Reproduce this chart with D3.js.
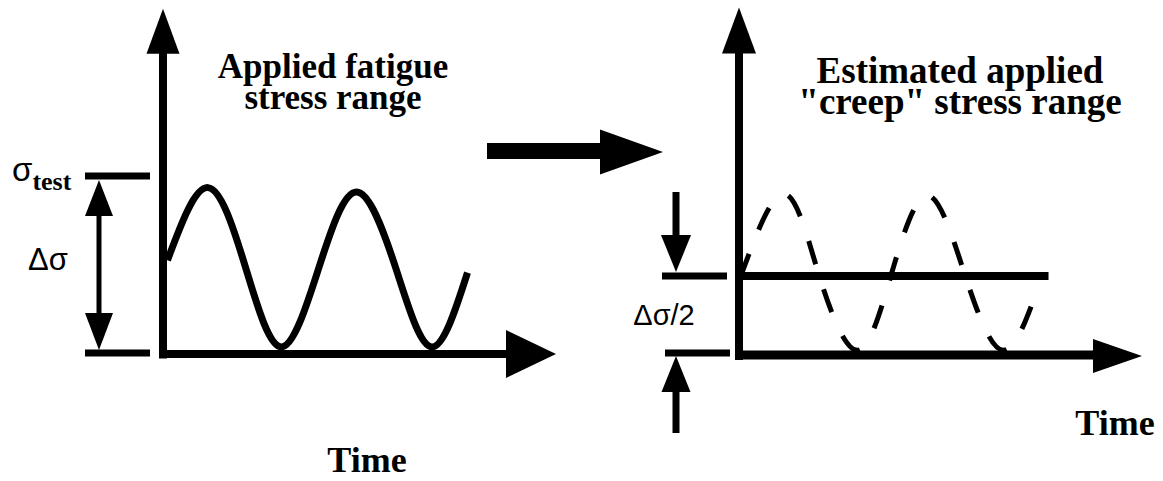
<!DOCTYPE html>
<html>
<head>
<meta charset="utf-8">
<script src="https://cdn.jsdelivr.net/npm/d3@7"></script>
<style>
  body { margin: 0; background: #fff; }
  svg { display: block; }
</style>
</head>
<body>
<svg id="chart" width="1163" height="481"></svg>
<script>
// Applied fatigue cycle: time in cycles, stress as a fraction of sigma_test
const fatigueTime   = [0.03, 0.30, 0.55, 0.79, 1.04, 1.29, 1.55, 1.79, 2.03];
const fatigueStress = [0.53, 0.94, 0.49, 0.04, 0.49, 0.915, 0.49, 0.04, 0.46];

// The same cycle, redrawn dashed under the estimated creep stress
const creepTime   = [0.02, 0.31, 0.55, 0.81, 1.04, 1.29, 1.55, 1.81, 2.06];
const creepStress = [0.52, 1.02, 0.50, 0.03, 0.50, 1.01, 0.50, 0.03, 0.46];

// Estimated constant "creep" stress = half the range
const creepLevelTime   = [0, 2.12];
const creepLevelStress = [0.5, 0.5];

const leftTitle  = ["Applied fatigue", "stress range"];
const rightTitle = ["Estimated applied", "\"creep\" stress range"];
const timeLabel  = "Time";
const rangeLabel = "\u0394\u03c3";
const halfRangeLabel = "\u0394\u03c3/2";

const svg = d3.select("#chart");
const ink = "#000";
const serif = "'Liberation Serif', 'Times New Roman', serif";
const sans  = "'Liberation Sans', Arial, sans-serif";

// ---- scales --------------------------------------------------------------
const xL = d3.scaleLinear().domain([0, 2.6]).range([163, 553]);
const yL = d3.scaleLinear().domain([0, 1]).range([354, 177]);
const xR = d3.scaleLinear().domain([0, 2.75]).range([739, 1140.5]);
const yR = d3.scaleLinear().domain([0, 1]).range([355, 197]);

// ---- helpers -------------------------------------------------------------
// filled triangular arrow head; (tx,ty) is the tip, (dx,dy) the unit direction
function head(g, tx, ty, dx, dy, len, half) {
  const bx = tx - dx * len, by = ty - dy * len;
  const px = -dy, py = dx;
  g.append("path")
    .attr("d", `M${tx},${ty}L${bx + px * half},${by + py * half}L${bx - px * half},${by - py * half}Z`)
    .attr("fill", ink);
}
function bar(g, x1, y1, x2, y2, w) {
  g.append("line")
    .attr("x1", x1).attr("y1", y1).attr("x2", x2).attr("y2", y2)
    .attr("stroke", ink).attr("stroke-width", w);
}
// two-line bold title in one text element
function title(g, lines, x, y, size, lead) {
  const t = g.append("text")
    .attr("text-anchor", "middle")
    .attr("font-family", serif).attr("font-weight", "bold")
    .attr("font-size", size).attr("fill", ink);
  lines.forEach((s, i) => t.append("tspan")
    .attr("x", x).attr("y", y + i * lead).text(s));
}

const line = (xs, ys) => d3.line()
  .x(i => xs(i[0])).y(i => ys(i[1]))
  .curve(d3.curveNatural);

// ---- left panel: applied fatigue ----------------------------------------
const L = svg.append("g");
const yTopL = 1.95;                       // stress value at the axis tip
bar(L, xL(0), yL(0) + 4.5, xL(0), yL(yTopL) + 40, 8);
head(L, xL(0), yL(yTopL), 0, -1, 45, 16.5);
bar(L, xL(0) - 4, yL(0), xL(2.6) - 45, yL(0), 8);
head(L, xL(2.6) + 3, yL(0), 1, 0, 50, 24);

// fatigue wave
L.append("path")
  .datum(d3.zip(fatigueTime, fatigueStress))
  .attr("d", line(xL, yL))
  .attr("fill", "none").attr("stroke", ink).attr("stroke-width", 7);

// range markers
const rx = 99;
bar(L, 85, yL(1) - 1, 150, yL(1) - 1, 7);
bar(L, 85, yL(0) - 1, 150, yL(0) - 1, 7);
bar(L, rx, yL(1) + 30, rx, yL(0) - 30, 5);
head(L, rx, yL(1) + 3, 0, -1, 36, 14);
head(L, rx, yL(0) - 4, 0, 1, 37, 14);

const sig = L.append("text")
  .attr("x", 12).attr("y", 181)
  .attr("font-family", sans).attr("font-size", 33).attr("fill", ink);
sig.append("tspan").text("\u03c3");
sig.append("tspan").attr("font-family", serif).attr("font-weight", "bold")
  .attr("font-size", 26).attr("dy", 9).text("test");

L.append("text").attr("x", 48).attr("y", 270).attr("text-anchor", "middle")
  .attr("font-family", sans).attr("font-size", 31).attr("fill", ink).text(rangeLabel);

title(L, leftTitle, 333, 78, 35, 31);

L.append("text").attr("x", 367).attr("y", 472).attr("text-anchor", "middle")
  .attr("font-family", serif).attr("font-weight", "bold").attr("font-size", 36)
  .attr("fill", ink).text(timeLabel);

// ---- transition arrow ----------------------------------------------------
const M = svg.append("g");
bar(M, 487, 151, 602, 151, 16);
head(M, 663, 152, 1, 0, 63, 22.5);

// ---- right panel: estimated creep stress --------------------------------
const R = svg.append("g");
const yTopR = 2.2;
bar(R, xR(0), yR(0) + 5, xR(0), yR(yTopR) + 40, 8);
head(R, xR(0), yR(yTopR), 0, -1, 46, 17);
bar(R, xR(0) - 4, yR(0), xR(2.75) - 45, yR(0), 9);
head(R, xR(2.75) + 1.5, yR(0) + 1, 1, 0, 49, 17);

// original cycle, dashed: seven dash periods per cycle, gaps over the crests
const wave = R.append("path")
  .datum(d3.zip(creepTime, creepStress))
  .attr("d", line(xR, yR))
  .attr("fill", "none").attr("stroke", ink).attr("stroke-width", 5);
{
  const node = wave.node(), total = node.getTotalLength();
  const crests = [];
  let best = null;
  const splitX = xR(0.8);
  let b1 = { y: Infinity }, b2 = { y: Infinity };
  for (let s = 0; s <= total; s += 0.5) {
    const p = node.getPointAtLength(s);
    if (p.x < splitX) { if (p.y < b1.y) b1 = { y: p.y, s }; }
    else if (p.x < xR(1.8)) { if (p.y < b2.y) b2 = { y: p.y, s }; }
  }
  const P = (b2.s - b1.s) / 7;
  const dash = 0.48 * P, gap = P - dash;
  let off = (dash + gap / 2 - b1.s) % P;
  if (off < 0) off += P;
  wave.attr("stroke-dasharray", `${dash} ${gap}`).attr("stroke-dashoffset", -off);
}

// constant creep stress
R.append("path")
  .datum(d3.zip(creepLevelTime, creepLevelStress))
  .attr("d", d3.line().x(d => xR(d[0])).y(d => yR(d[1])))
  .attr("stroke", ink).attr("stroke-width", 8);

// half-range markers
const hx = 676;
bar(R, 662, yR(0.5), 727, yR(0.5), 7);
bar(R, 665, yR(0) - 2, 730, yR(0) - 2, 7);
bar(R, hx, 192, hx, yR(0.5) - 38, 7);
head(R, hx, yR(0.5) - 4, 0, 1, 37, 15);
bar(R, hx, yR(0) + 35, hx, 433, 7);
head(R, hx, yR(0) + 1, 0, -1, 36, 14.5);

R.append("text").attr("x", 664).attr("y", 325).attr("text-anchor", "middle")
  .attr("font-family", sans).attr("font-size", 29).attr("fill", ink).text(halfRangeLabel);

title(R, rightTitle, 960, 83, 37, 31);

R.append("text").attr("x", 1115).attr("y", 435).attr("text-anchor", "middle")
  .attr("font-family", serif).attr("font-weight", "bold").attr("font-size", 36)
  .attr("fill", ink).text(timeLabel);
</script>
</body>
</html>
